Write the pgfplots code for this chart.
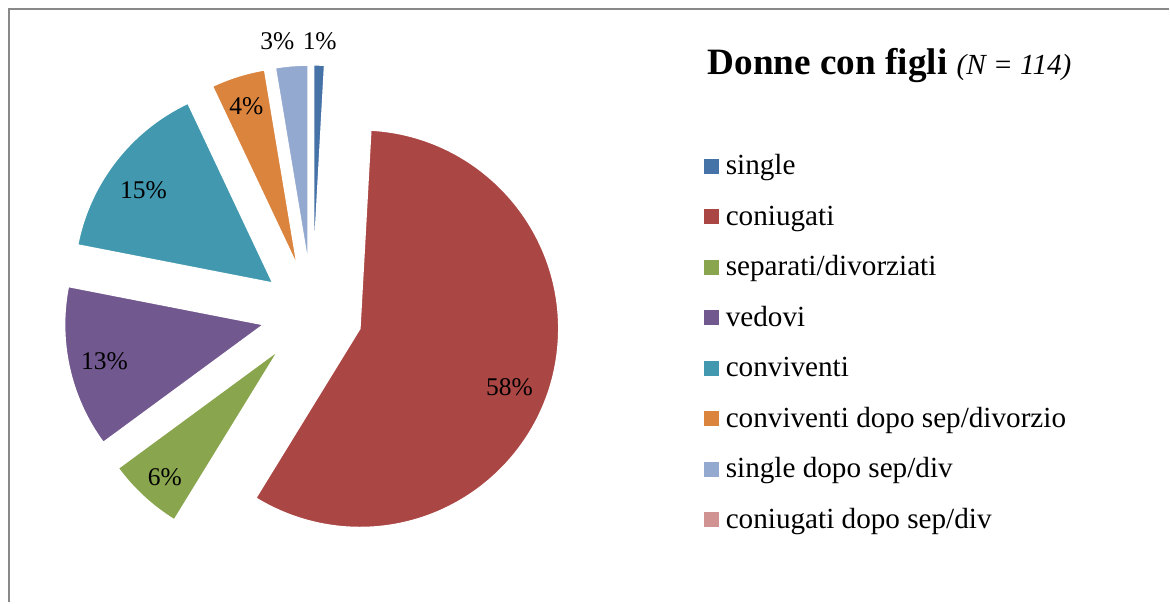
\documentclass[border=0pt]{standalone}
\usepackage{pgfplots}
\pgfplotsset{compat=1.18}
\usepackage{fontspec}
\setmainfont{Liberation Serif}
\definecolor{cSingle}{HTML}{4572A7}
\definecolor{cConiug}{HTML}{AA4643}
\definecolor{cSep}{HTML}{89A54E}
\definecolor{cVed}{HTML}{71588F}
\definecolor{cConv}{HTML}{4198AF}
\definecolor{cConvDopo}{HTML}{DB843D}
\definecolor{cSingleDopo}{HTML}{93A9CF}
\definecolor{cConiugDopo}{HTML}{D19392}
\definecolor{frameGray}{HTML}{898989}
% counts (N = 114): single 1, coniugati 66, separati/divorziati 7, vedovi 15,
% conviventi 17, conviventi dopo sep/divorzio 5, single dopo sep/div 3, coniugati dopo sep/div 0
% \slice{cumulative start}{cumulative end}{colour}
\newcommand{\slice}[3]{%
  \fill[#3, draw=white, line width=0.7pt]
    (axis cs:312.5,289) ++({90-(#1/114)*180-(#2/114)*180}:25pt)
    -- ++({90-(#1/114)*360}:99.5pt)
    arc[start angle={90-(#1/114)*360}, end angle={90-(#2/114)*360}, radius=99.5pt]
    -- cycle;}
% \legentry{baseline Y}{square bottom}{square top}{colour}{text}
\newcommand{\legentry}[5]{%
  \fill[#4] (axis cs:705,#2) rectangle (axis cs:720,#3);
  \node[anchor=base west, inner sep=0pt, font=\fontsize{14.6}{17}\selectfont]
    at (axis cs:726,#1) {#5};}
\newcommand{\pielabel}[3]{% x, baseline Y, text
  \node[anchor=base, inner sep=0pt, font=\fontsize{12.75}{15}\selectfont]
    at (axis cs:#1,#2) {#3};}
\begin{document}
\begin{tikzpicture}
\begin{axis}[
  scale only axis, width=585pt, height=301.5pt,
  xmin=0, xmax=1170, ymin=0, ymax=603,
  hide axis, clip=false]
\path (axis cs:0,0) rectangle (axis cs:1170,603);
\draw[frameGray, line width=1pt] (axis cs:9.5,0) -- (axis cs:9.5,593.5) -- (axis cs:1170,593.5);
% pie slices (cumulative counts out of 114)
\slice{0}{1}{cSingle}
\slice{1}{67}{cConiug}
\slice{67}{74}{cSep}
\slice{74}{89}{cVed}
\slice{89}{106}{cConv}
\slice{106}{111}{cConvDopo}
\slice{111}{114}{cSingleDopo}
% data labels
\pielabel{510}{207}{58\%}
\pielabel{104.5}{233}{13\%}
\pielabel{143.5}{404}{15\%}
\pielabel{165}{117}{6\%}
\pielabel{246.5}{488}{4\%}
\pielabel{277.5}{553}{3\%}
\pielabel{320}{553}{1\%}
% title
\node[anchor=base west, inner sep=0pt] at (axis cs:708,528)
  {{\fontsize{18.6}{22}\selectfont\bfseries Donne con figli\ }{\fontsize{14.6}{17}\selectfont\itshape (N = 114)}};
% legend
\legentry{428}{429}{444}{cSingle}{single}
\legentry{377.5}{378.5}{393.5}{cConiug}{coniugati}
\legentry{327}{328}{343}{cSep}{separati/divorziati}
\legentry{276.5}{277.5}{292.5}{cVed}{vedovi}
\legentry{226}{227}{242}{cConv}{conviventi}
\legentry{175.5}{176.5}{191.5}{cConvDopo}{conviventi dopo sep/divorzio}
\legentry{125}{126}{141}{cSingleDopo}{single dopo sep/div}
\legentry{74.5}{75.5}{90.5}{cConiugDopo}{coniugati dopo sep/div}
\end{axis}
\end{tikzpicture}
\end{document}
